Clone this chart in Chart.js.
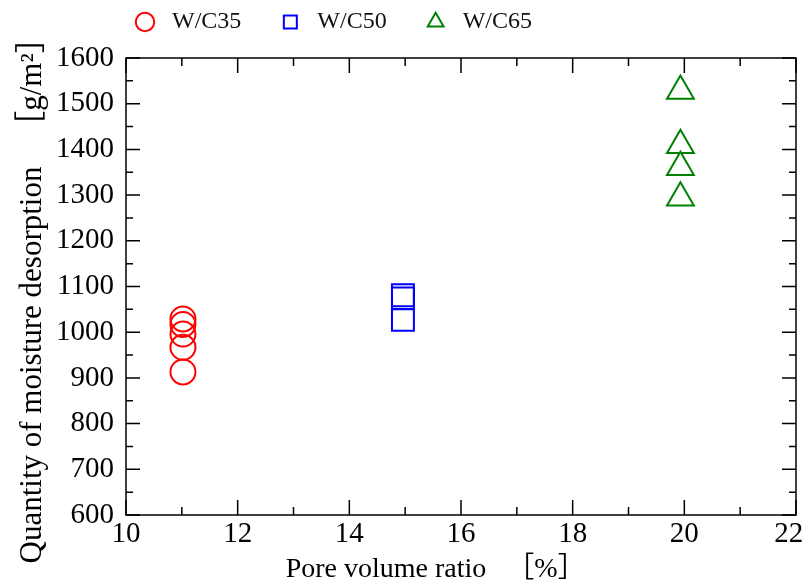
<!DOCTYPE html>
<html>
<head>
<meta charset="utf-8">
<script src="https://cdn.jsdelivr.net/npm/chart.js@4.4.1/dist/chart.umd.min.js"></script>
<style>
    html, body { margin: 0; padding: 0; background: #fff; }
</style>
</head>
<body>
<canvas id="myChart" width="805" height="583"></canvas>
<script>
'use strict';
const fontFamily = '"Liberation Serif", "Times New Roman", "Noto Sans CJK JP", serif';

// Series
const seriesLabels = ['W/C35', 'W/C50', 'W/C65'];
const wc35Ratio = [11.02, 11.02, 11.02, 11.02, 11.02];
const wc35Desorption = [913, 967, 996, 1017, 1029];
const wc50Ratio = [14.96, 14.96, 14.96];
const wc50Desorption = [1027, 1074, 1081];
const wc65Ratio = [19.93, 19.93, 19.93, 19.93];
const wc65Desorption = [1294, 1361, 1409, 1528];

// Axis ranges and steps
const xRange = [10, 22];
const xStep = 2;
const yRange = [600, 1600];
const yStep = 100;

const xTitle = 'Pore volume ratio';
const xUnit = '［%］';
const yTitle = 'Quantity of moisture desorption';
const yUnit = '［g/m²］';

function toPoints(xs, ys) {
    return xs.map((x, i) => ({x: x, y: ys[i]}));
}

// Frame with inward ticks on all four sides, plus the axis titles
const frameTicks = {
    id: 'frameTicks',
    beforeDatasetsDraw(chart) {
        const {ctx, chartArea: a, scales: {x, y}} = chart;
        ctx.save();
        ctx.strokeStyle = '#000';
        ctx.lineWidth = 1.5;
        ctx.strokeRect(a.left, a.top, a.right - a.left, a.bottom - a.top);
        ctx.beginPath();
        for (let v = xRange[0]; v <= xRange[1]; v += xStep / 2) {
            const px = x.getPixelForValue(v);
            const len = (v - xRange[0]) % xStep === 0 ? 15 : 8;
            ctx.moveTo(px, a.bottom); ctx.lineTo(px, a.bottom - len);
            ctx.moveTo(px, a.top); ctx.lineTo(px, a.top + len);
        }
        for (let v = yRange[0]; v <= yRange[1]; v += yStep / 2) {
            const py = y.getPixelForValue(v);
            const len = (v - yRange[0]) % yStep === 0 ? 14 : 7;
            ctx.moveTo(a.left, py); ctx.lineTo(a.left + len, py);
            ctx.moveTo(a.right, py); ctx.lineTo(a.right - len, py);
        }
        ctx.stroke();
        ctx.restore();
    },
    afterDraw(chart) {
        const ctx = chart.ctx;
        ctx.save();
        ctx.fillStyle = '#000';
        ctx.textAlign = 'center';
        ctx.textBaseline = 'alphabetic';
        ctx.font = `28px ${fontFamily}`;
        ctx.fillText(xTitle, 386, 577);
        ctx.fillText(xUnit, 546, 577);

        ctx.font = `31px ${fontFamily}`;
        ctx.translate(41, 363);
        ctx.rotate(-Math.PI / 2);
        ctx.fillText(yTitle, -2, 0);
        ctx.fillText(yUnit, 363 - 82, 0);
        ctx.restore();
    }
};

const ctx = document.getElementById('myChart').getContext('2d');
const chart = new Chart(ctx, {
    type: 'scatter',
    data: {
        datasets: [{
            label: seriesLabels[0],
            data: toPoints(wc35Ratio, wc35Desorption),
            pointStyle: 'circle',
            pointRadius: 12.5,
            borderColor: '#ff0000',
            backgroundColor: 'rgba(0,0,0,0)',
            borderWidth: 2
        }, {
            label: seriesLabels[1],
            data: toPoints(wc50Ratio, wc50Desorption),
            pointStyle: 'rect',
            pointRadius: 15.5,
            borderColor: '#0000ff',
            backgroundColor: 'rgba(0,0,0,0)',
            borderWidth: 2
        }, {
            label: seriesLabels[2],
            data: toPoints(wc65Ratio, wc65Desorption),
            pointStyle: 'triangle',
            pointRadius: 15.5,
            borderColor: '#008000',
            backgroundColor: 'rgba(0,0,0,0)',
            borderWidth: 2
        }]
    },
    options: {
        responsive: false,
        animation: false,
        // no automatic padding for the big markers, the frame sits at fixed margins
        layout: {autoPadding: false, padding: {left: 0, right: 9, top: 0, bottom: 0}},
        plugins: {
            tooltip: {enabled: false},
            legend: {
                position: 'top',
                align: 'start',
                fullSize: false,
                labels: {
                    usePointStyle: true,
                    boxWidth: 18,
                    boxHeight: 13,
                    padding: 10,
                    color: '#111',
                    font: {family: fontFamily, size: 24},
                    generateLabels(c) {
                        const items = Chart.defaults.plugins.legend.labels.generateLabels(c);
                        items.forEach(item => { item.text = ' ' + item.text + '     '; });
                        return items;
                    }
                }
            }
        },
        scales: {
            x: {
                type: 'linear',
                position: 'bottom',
                min: xRange[0],
                max: xRange[1],
                ticks: {
                    stepSize: xStep,
                    color: '#000',
                    padding: 2,
                    font: {family: fontFamily, size: 29},
                    // the last label is nudged left so it stays inside the canvas
                    callback: value => value === xRange[1] ? value + '\u2002' : String(value)
                },
                grid: {display: false, drawTicks: false},
                border: {display: false},
                afterFit(scale) {
                    scale.height = 68;
                    scale.paddingLeft = 0;
                    scale.paddingRight = 0;
                }
            },
            x2: {
                type: 'linear',
                position: 'top',
                min: xRange[0],
                max: xRange[1],
                ticks: {display: false},
                grid: {display: false, drawTicks: false},
                border: {display: false},
                afterFit(scale) { scale.height = 14; }
            },
            y: {
                type: 'linear',
                min: yRange[0],
                max: yRange[1],
                ticks: {
                    stepSize: yStep,
                    color: '#000',
                    padding: 12,
                    font: {family: fontFamily, size: 29},
                    callback: value => String(value)
                },
                grid: {display: false, drawTicks: false},
                border: {display: false},
                afterFit(scale) { scale.width = 126; }
            }
        }
    },
    plugins: [frameTicks]
});
</script>
</body>
</html>
